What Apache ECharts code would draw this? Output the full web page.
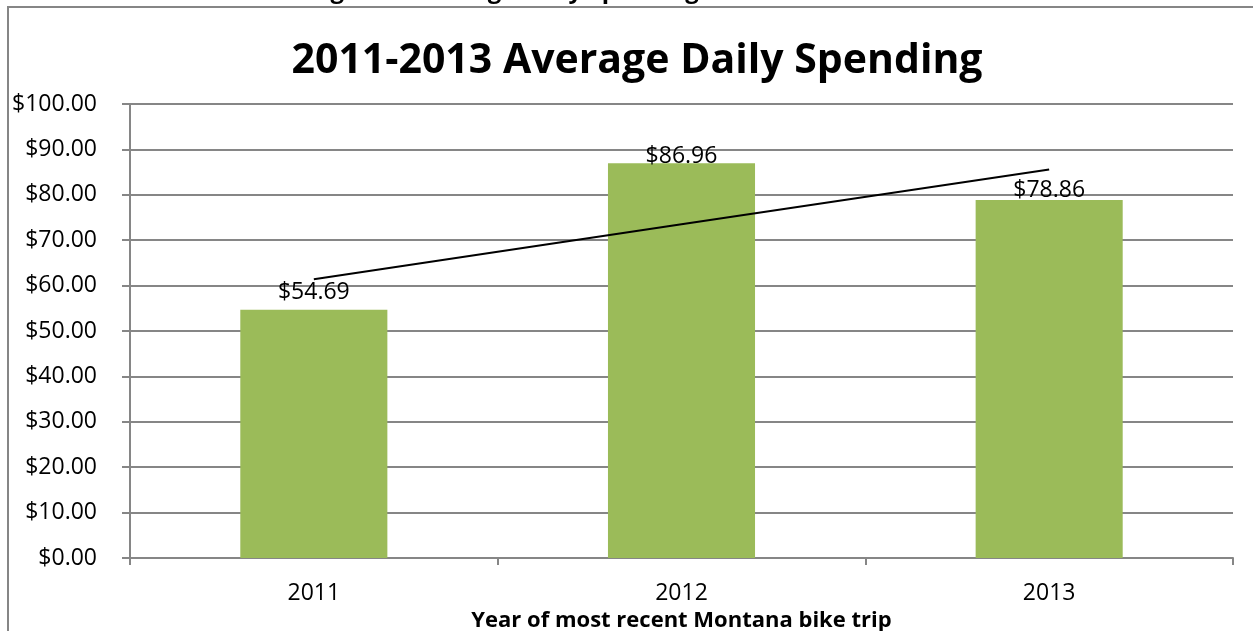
<!DOCTYPE html>
<html>
<head>
<meta charset="utf-8">
<script src="https://cdn.jsdelivr.net/npm/echarts@6/dist/echarts.min.js"></script>
<style>html,body{margin:0;padding:0;background:#fff}#c{width:1253px;height:631px}</style>
</head>
<body>
<div id="c"></div>
<script>
const categories = ['2011', '2012', '2013'];
const spending = [54.69, 86.96, 78.86];
const trend = [61.42, 73.50, 85.59];
const yTicks = { min: 0, max: 100, interval: 10 };
const titleText = '2011-2013 Average Daily Spending';
const xName = 'Year of most recent Montana bike trip';
const cutText = 'Figure 8: Average Daily Spending';

const FONT = '"Open Sans", "Noto Sans", sans-serif';
const labelDist = [6, -5, -2];
const chart = echarts.init(document.getElementById('c'), null, { renderer: 'canvas' });
chart.setOption({
  animation: false,
  backgroundColor: '#fff',
  title: {
    text: titleText,
    left: 632, top: 36, textAlign: 'center',
    textStyle: { fontFamily: FONT, fontWeight: 'bold', fontSize: 41, color: '#000' }
  },
  graphic: [
    { type: 'polyline', shape: { points: [[8, 631], [8, 7], [1253, 7]] },
      style: { stroke: '#868686', lineWidth: 2, fill: null } },
    { type: 'text', left: 310, top: -21,
      style: { text: cutText, fontFamily: FONT, fontWeight: 'bold', fontSize: 24, fill: '#000' } }
  ],
  grid: { left: 130, right: 20, top: 104, bottom: 73, outerBoundsMode: 'none', containLabel: false },
  xAxis: {
    type: 'category', data: categories, boundaryGap: true,
    name: xName, nameLocation: 'middle', nameGap: 44,
    nameTextStyle: { fontFamily: FONT, fontWeight: 'bold', fontSize: 22, color: '#000' },
    axisLine: { lineStyle: { color: '#868686', width: 2 } },
    axisTick: { show: true, length: 7, lineStyle: { color: '#868686', width: 2 } },
    axisLabel: { fontFamily: FONT, fontSize: 23, color: '#000', margin: 24 }
  },
  yAxis: {
    type: 'value', min: yTicks.min, max: yTicks.max, interval: yTicks.interval,
    axisLine: { show: true, lineStyle: { color: '#868686', width: 2 } },
    axisTick: { show: true, length: 8, lineStyle: { color: '#868686', width: 2 } },
    splitLine: { lineStyle: { color: '#868686', width: 2 } },
    axisLabel: { fontFamily: FONT, fontSize: 23, color: '#000', margin: 33,
      formatter: v => '$' + v.toFixed(2) }
  },
  series: [
    { type: 'bar', barWidth: '40%', itemStyle: { color: '#9BBB59' },
      data: spending.map((v, i) => ({ value: v, label: { distance: labelDist[i] } })),
      label: { show: true, position: 'top', fontFamily: FONT, fontSize: 23, color: '#000',
        formatter: p => '$' + p.value.toFixed(2) } },
    { type: 'line', data: trend, symbol: 'none', lineStyle: { color: '#000', width: 2 }, z: 5 }
  ]
});
</script>
</body>
</html>
